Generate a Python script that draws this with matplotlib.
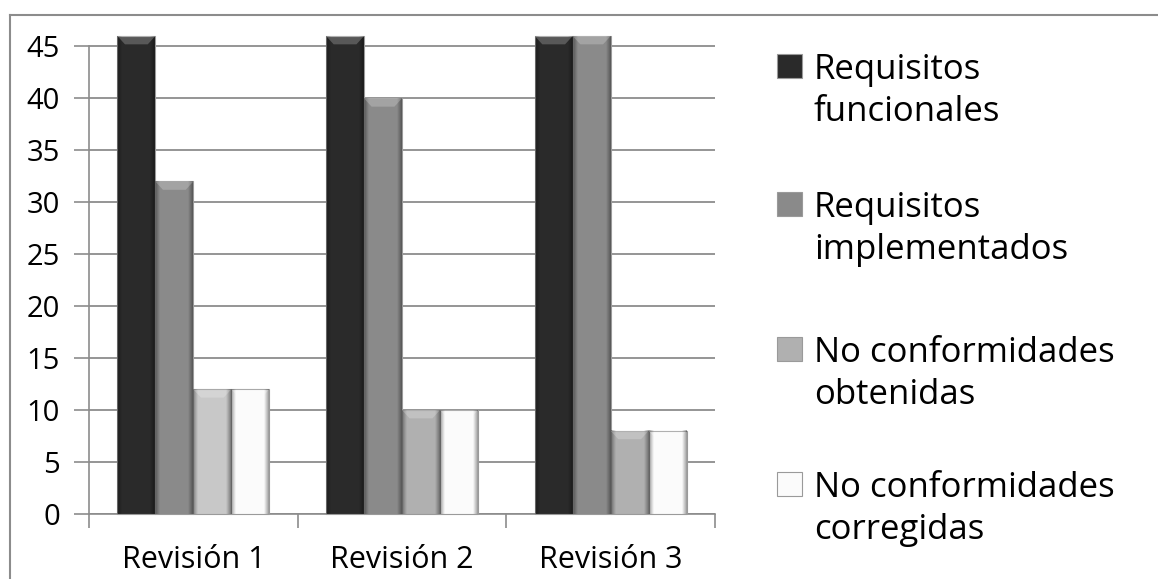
import numpy as np
import matplotlib
matplotlib.use("Agg")
import matplotlib.pyplot as plt
from matplotlib.patches import Rectangle
from matplotlib.lines import Line2D

plt.rcParams['font.family'] = ['Open Sans', 'DejaVu Sans']

# revisiones y series
revisiones = ["Revisión 1", "Revisión 2", "Revisión 3"]
series = ["Requisitos\nfuncionales", "Requisitos\nimplementados",
          "No conformidades\nobtenidas", "No conformidades\ncorregidas"]
req_funcionales = [46, 46, 46]
req_implementados = [32, 40, 46]
nc_obtenidas = [12, 10, 8]
nc_corregidas = [12, 10, 8]
valores = [req_funcionales, req_implementados, nc_obtenidas, nc_corregidas]

colores = ["#2a2a2a", "#8a8a8a", "#b0b0b0", "#fbfbfb"]
# la primera revision tiene el tercer grupo algo mas claro
colores_barra = [colores[:], colores[:], colores[:]]
colores_barra[0][2] = "#c8c8c8"

W, H = 1158, 579
fig = plt.figure(figsize=(W / 100, H / 100), dpi=100)
ax = fig.add_axes([89 / W, 1 - 514 / H, 626 / W, 478 / H])

x = np.arange(len(revisiones))
ancho = 0.182


def sombra(w=40, h=400):
    # degradado horizontal: bordes mas oscuros, centro limpio
    t = np.linspace(0, 1, w)
    a = np.clip(np.maximum(0.12 - t, t - 0.88) / 0.12, 0, 1) * 0.35
    img = np.zeros((h, w, 4))
    img[..., 3] = a[None, :]
    return img


for i, vals in enumerate(valores):
    offs = x + (i - 1.5) * ancho
    for j, (xx, v) in enumerate(zip(offs, vals)):
        b = ax.bar(xx, v, ancho, color=colores_barra[j][i], edgecolor="#9a9a9a",
                   linewidth=0.8, zorder=3, clip_on=False)[0]
        x0, w, h = b.get_x(), b.get_width(), b.get_height()
        im = ax.imshow(sombra(), extent=(x0, x0 + w, 0, h), aspect="auto",
                       zorder=3.5, interpolation="bilinear", clip_on=False)
        im.set_clip_path(b)
        # bisel superior
        d = 0.8
        ins = w * 0.2
        ax.fill([x0, x0 + w, x0 + w - ins, x0 + ins],
                [h, h, h - d, h - d], color="white", alpha=0.22,
                zorder=3.6, lw=0, clip_on=False)

ax.set_xlim(-0.5, 2.5)
ax.set_ylim(0, 46)
ax.set_yticks(range(0, 50, 5))
ax.set_xticks(x)
ax.set_xticklabels(revisiones)
ax.set_xticks([-0.5, 0.5, 1.5, 2.5], minor=True)
ax.tick_params(axis="x", which="major", length=0, pad=22, labelsize=22)
ax.tick_params(axis="x", which="minor", length=10, width=1.2, color="#8c8c8c")
ax.tick_params(axis="y", length=11, width=1.2, color="#8c8c8c", labelsize=21, pad=10)
ax.grid(axis="y", color="#8c8c8c", linewidth=1.3, zorder=0)
ax.set_axisbelow(True)
for s in ["top", "right"]:
    ax.spines[s].set_visible(False)
ax.spines["left"].set_bounds(0, 45)
for s in ["left", "bottom"]:
    ax.spines[s].set_color("#8c8c8c")
    ax.spines[s].set_linewidth(1.2)

# leyenda: cuadro alineado con la primera linea de cada rotulo
ley_y = [66, 204, 349, 484]
for c, texto, yy in zip(colores, series, ley_y):
    fig.add_artist(Rectangle((777 / W, 1 - (yy + 12) / H), 25 / W, 24 / H,
                             facecolor=c, edgecolor="#9a9a9a", lw=0.8,
                             transform=fig.transFigure))
    for k, linea in enumerate(texto.split("\n")):
        fig.text(814 / W, 1 - (yy + 42 * k) / H, linea, fontsize=25,
                 va="center_baseline", ha="left")

# marco exterior
fig.add_artist(Line2D([10 / W, 1], [1 - 15 / H, 1 - 15 / H],
                      color="#8c8c8c", lw=1.5, transform=fig.transFigure))
fig.add_artist(Line2D([10 / W, 10 / W], [0, 1 - 15 / H],
                      color="#8c8c8c", lw=1.5, transform=fig.transFigure))

fig.savefig("out.png", dpi=100)
